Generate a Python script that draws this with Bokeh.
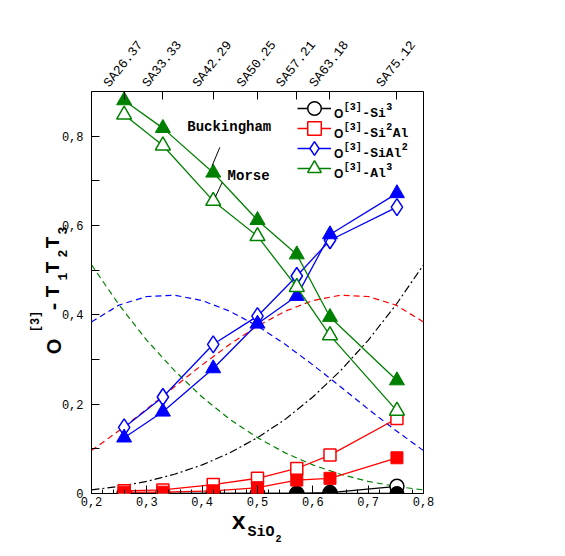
from math import pi
from bokeh.plotting import figure
from bokeh.models import Range1d, LinearAxis, FixedTicker, Label, Legend, LegendItem
from bokeh.core.properties import value
from bokeh.embed import file_html
from bokeh.resources import INLINE

# ---------------- data ----------------
x_sio2 = [0.259, 0.329, 0.420, 0.500, 0.571, 0.631, 0.752]
sample_labels = ["SA26.37", "SA33.33", "SA42.29", "SA50.25", "SA57.21", "SA63.18", "SA75.12"]

# Buckingham (filled) / Morse (open)
si3_buck = [0.000, 0.000, 0.000, 0.000, 0.000, 0.000, 0.000]
si3_morse = [0.000, 0.000, 0.000, 0.000, 0.000, 0.002, 0.016]
si2al_buck = [0.003, 0.003, 0.006, 0.013, 0.030, 0.034, 0.080]
si2al_morse = [0.006, 0.008, 0.020, 0.034, 0.056, 0.086, 0.168]
sial2_buck = [0.125, 0.183, 0.280, 0.380, 0.442, 0.580, 0.672]
sial2_morse = [0.148, 0.216, 0.334, 0.397, 0.487, 0.567, 0.641]
al3_buck = [0.880, 0.818, 0.718, 0.612, 0.535, 0.395, 0.253]
al3_morse = [0.848, 0.779, 0.655, 0.576, 0.462, 0.354, 0.185]

# dashed reference curves
curve_x = [0.20, 0.25, 0.30, 0.35, 0.40, 0.45, 0.50, 0.55, 0.60, 0.65, 0.70, 0.75, 0.80]
curve_si3 = [0.008, 0.016, 0.027, 0.043, 0.064, 0.091, 0.125, 0.166, 0.216, 0.275, 0.343, 0.422, 0.512]
curve_si2al = [0.096, 0.141, 0.189, 0.239, 0.288, 0.334, 0.375, 0.408, 0.432, 0.444, 0.441, 0.422, 0.384]
curve_sial2 = [0.384, 0.422, 0.441, 0.444, 0.432, 0.408, 0.375, 0.334, 0.288, 0.239, 0.189, 0.141, 0.096]
curve_al3 = [0.512, 0.422, 0.343, 0.275, 0.216, 0.166, 0.125, 0.091, 0.064, 0.043, 0.027, 0.016, 0.008]

x_ticks = [0.2, 0.3, 0.4, 0.5, 0.6, 0.7, 0.8]
x_tick_labels = ["0,2", "0,3", "0,4", "0,5", "0,6", "0,7", "0,8"]
y_ticks = [0.0, 0.2, 0.4, 0.6, 0.8]
y_tick_labels = ["0", "0,2", "0,4", "0,6", "0,8"]
y_minor = [0.1, 0.3, 0.5, 0.7, 0.9]

GREEN = "#008000"
BLUE = "#0000ff"
RED = "#ff0000"
BLACK = "#000000"
MONO = "Liberation Mono"
SANS = "Liberation Sans"

p = figure(width=565, height=556, x_range=Range1d(0.2, 0.8), y_range=Range1d(0, 0.9),
           output_backend="svg", toolbar_location=None,
           x_axis_location=None, y_axis_location=None,
           min_border_left=91, min_border_right=142, min_border_top=91, min_border_bottom=63)
p.grid.visible = False
p.outline_line_color = "black"
p.outline_line_width = 1
p.background_fill_color = "white"
p.border_fill_color = "white"

# axes
xb = LinearAxis(ticker=FixedTicker(ticks=x_ticks, minor_ticks=[round(0.2 + 0.02 * i, 2) for i in range(31)]),
                major_label_overrides=dict(zip(x_ticks, x_tick_labels)))
yl = LinearAxis(ticker=FixedTicker(ticks=y_ticks, minor_ticks=y_minor),
                major_label_overrides=dict(zip(y_ticks, y_tick_labels)))
xt = LinearAxis(ticker=FixedTicker(ticks=x_sio2, minor_ticks=[]),
                major_label_text_alpha=0, major_label_standoff=0)
# sample labels: slanted text centred over the sample ticks
label_shift = 0.032
sample_pos = [round(v - label_shift, 4) for v in x_sio2]
xt2 = LinearAxis(ticker=FixedTicker(ticks=sample_pos, minor_ticks=[]),
                 major_label_overrides=dict(zip(sample_pos, sample_labels)))
for ax in (xb, yl, xt, xt2):
    ax.axis_line_color = None
    ax.major_tick_in = 8
    ax.major_tick_out = 0
    ax.minor_tick_out = 0
    ax.major_tick_line_color = "black"
    ax.minor_tick_line_color = "black"
    ax.major_label_text_font = MONO
    ax.major_label_text_font_size = "12px"
    ax.major_label_text_color = "black"
xt.major_label_text_font_size = "1px"
xt2.major_tick_in = 0
xt2.major_tick_line_color = None
xb.minor_tick_in = 4
xb.major_label_standoff = 3
yl.minor_tick_in = 8
yl.major_label_standoff = 8
xt2.major_label_orientation = 0.9
xt2.major_label_standoff = 6
xt2.major_label_text_font_size = "13px"
p.add_layout(xb, "below")
p.add_layout(yl, "left")
p.add_layout(xt, "above")
p.add_layout(xt2, "above")

# dashed model curves
p.line(curve_x, curve_si3, line_color=BLACK, line_width=1.2, line_dash="8 3 2 3")
p.line(curve_x, curve_si2al, line_color=RED, line_width=1.2, line_dash="6 4")
p.line(curve_x, curve_sial2, line_color=BLUE, line_width=1.2, line_dash="6 4")
p.line(curve_x, curve_al3, line_color=GREEN, line_width=1.2, line_dash="6 4")

series = [
    (si3_morse, si3_buck, BLACK, "circle", "circle", 14, 14),
    (si2al_morse, si2al_buck, RED, "square", "square", 12, 12),
    (sial2_morse, sial2_buck, BLUE, "diamond", "triangle", 17, 15),
    (al3_morse, al3_buck, GREEN, "triangle", "triangle", 15, 15),
]
legend_y = [368, 348, 328, 308]
for (morse, buck, col, m_open, m_fill, s_open, s_fill), ly in zip(series, legend_y):
    lo = p.line(x_sio2, morse, line_color=col, line_width=1.3)
    so = p.scatter(x_sio2, morse, marker=m_open, size=s_open,
                   line_color=col, line_width=1.5, fill_color="white")
    p.line(x_sio2, buck, line_color=col, line_width=1.3)
    p.scatter(x_sio2, buck, marker=m_fill, size=s_fill, line_color=col, fill_color=col)
    lg = Legend(items=[LegendItem(label=value(" "), renderers=[lo, so])], location=(206, ly),
                glyph_width=34, glyph_height=34, label_height=34, label_width=0, padding=0,
                spacing=0, margin=0, label_standoff=0, border_line_alpha=0,
                background_fill_alpha=0, label_text_font_size="2px")
    p.add_layout(lg)


def clabel(text, px, py, size, font=MONO, bold=True, angle=0.0, align="left",
           baseline="alphabetic", side=None):
    lab = Label(x=px, y=py, x_units="canvas", y_units="canvas", text=text,
                text_font=font, text_font_size=f"{size}px",
                text_font_style="bold" if bold else "normal", angle=angle,
                text_align=align, text_baseline=baseline, text_color="black")
    if side is None:
        p.add_layout(lab)
    else:
        p.add_layout(lab, side)


# legend texts (rich text pieces)
legend_rows = [
    [("O", 12, 0, SANS), ("[3]", 10, 6, MONO), ("-Si", 13, 0, MONO), ("3", 10, 7, MONO)],
    [("O", 12, 0, SANS), ("[3]", 10, 6, MONO), ("-Si", 13, 0, MONO), ("2", 10, 7, MONO), ("Al", 13, 0, MONO)],
    [("O", 12, 0, SANS), ("[3]", 10, 6, MONO), ("-SiAl", 13, 0, MONO), ("2", 10, 7, MONO)],
    [("O", 12, 0, SANS), ("[3]", 10, 6, MONO), ("-Al", 13, 0, MONO), ("3", 10, 7, MONO)],
]
for i, row in enumerate(legend_rows):
    base = 113 + 20 * i
    xpos = 333.5
    for text, size, rise, font in row:
        clabel(text, xpos, base - rise, size, font=font)
        xpos += len(text) * (0.78 if font == SANS else 0.6) * size + 0.5

# y-axis label  O^[3]-T1T2T3 (rotated); pieces live in side panels so they are not clipped
ylab = [("O", 346, 53, 20, SANS, "right"), ("[3]", 321, 35, 12, MONO, "right"),
        ("-", 306, 53, 20, MONO, "right"),
        ("T", 291, 53, 20, MONO, "left"), ("1", 276, 62, 13, MONO, "right"),
        ("T", 267, 53, 20, MONO, "right"), ("2", 253, 62, 13, MONO, "right"),
        ("T", 242, 53, 20, MONO, "above"), ("3", 230, 62, 13, MONO, "right")]
for text, py, px, size, font, side in ylab:
    clabel(text, px, py, size, font=font, angle=pi / 2, align="center", side=side)

# x-axis label x_SiO2
clabel("x", 231, 522, 24, side="below")
clabel("SiO", 247, 532, 15, side="below")
clabel("2", 275, 538, 10, side="right")

# annotations
for txt, ax_, ay_ in (("Buckingham", 0.373, 0.820), ("Morse", 0.446, 0.710)):
    p.add_layout(Label(x=ax_, y=ay_, text=txt, text_font=MONO, text_font_size="14px",
                       text_font_style="bold", text_baseline="middle", text_color="black"))
p.segment(x0=[0.432, 0.436], y0=[0.775, 0.696], x1=[0.418, 0.424], y1=[0.734, 0.664],
          line_color="black", line_width=1)

open("out.html", "w").write(file_html(p, INLINE))
